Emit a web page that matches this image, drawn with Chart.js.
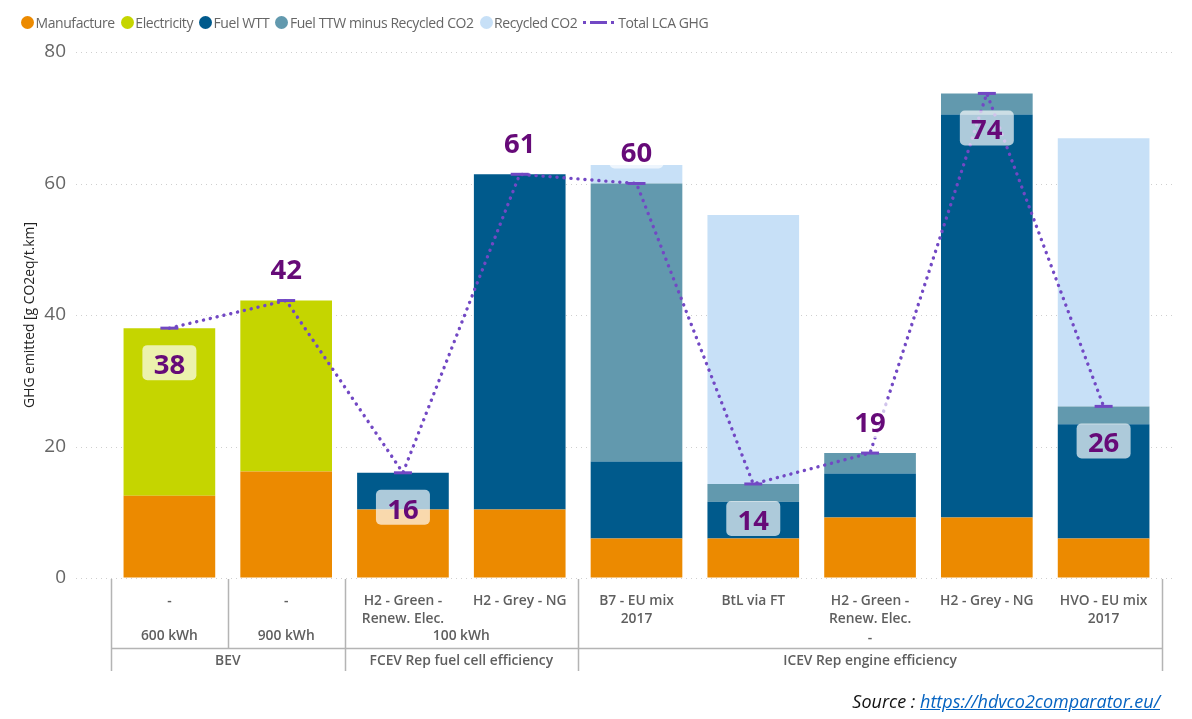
<!DOCTYPE html>
<html>
<head>
<meta charset="utf-8">
<script src="https://cdn.jsdelivr.net/npm/chart.js@4"></script>
<style>
  html, body { margin: 0; padding: 0; background: #fff; }
  #wrap { position: relative; width: 1192px; height: 719px; overflow: hidden; font-family: "Open Sans", sans-serif; }
  #legend { position: absolute; left: 21px; top: 12px; height: 20px; display: flex; align-items: center; font-size: 14px; color: #666; letter-spacing: -0.42px; white-space: nowrap; }
  .item { display: flex; align-items: center; margin-right: 6px; }
  .dot { width: 13px; height: 13px; border-radius: 50%; margin-right: 1.5px; }
  .dash { width: 31px; height: 3px; margin-right: 4px; background: linear-gradient(to right, #7248c4 0 3px, transparent 3px 7px, #7248c4 7px 24px, transparent 24px 28px, #7248c4 28px 31px); }
  #source { position: absolute; right: 32px; top: 689px; font-size: 18px; font-style: italic; color: #111; }
  #source a { color: #0563c1; }
</style>
</head>
<body>
<div id="wrap">
  <canvas id="chart" width="1192" height="719"></canvas>
  <div id="legend"></div>
  <div id="source">Source : <a href="https://hdvco2comparator.eu/">https://hdvco2comparator.eu/</a></div>
</div>
<script>
// ===== DATA =====
var fuelLabels = [
  ['-'], ['-'],
  ['H2 - Green -', 'Renew. Elec.'], ['H2 - Grey - NG'],
  ['B7 - EU mix', '2017'], ['BtL via FT'],
  ['H2 - Green -', 'Renew. Elec.', '-'], ['H2 - Grey - NG'],
  ['HVO - EU mix', '2017']
];
var sizeLabels = ['600 kWh', '900 kWh', '100 kWh', ''];
var sizeSpans = [1, 1, 2, 5];
var groupLabels = ['BEV', 'FCEV Rep fuel cell efficiency', 'ICEV Rep engine efficiency'];
var groupSpans = [2, 2, 5];

var manufacture = [12.5, 16.2, 10.4, 10.4, 6, 6, 9.2, 9.2, 6];
var electricity = [25.5, 26, 0, 0, 0, 0, 0, 0, 0];
var fuelWtt = [0, 0, 5.6, 51, 11.7, 5.6, 6.7, 61.3, 17.4];
var fuelTtw = [0, 0, 0, 0, 42.3, 2.7, 3.1, 3.2, 2.7];
var recycled = [0, 0, 0, 0, 2.8, 40.9, 0, 0, 40.8];
var totalGhg = [38, 42.2, 16, 61.4, 60, 14.3, 19, 73.7, 26.1];
var totalText = ['38', '42', '16', '61', '60', '14', '19', '74', '26'];
var labelsBelow = [true, false, true, false, false, true, false, true, true];
var yTicks = [0, 20, 40, 60, 80];

var colors = ['#EC8A00', '#C5D500', '#005A8C', '#6299AE', '#C7E0F7'];
var lineColor = '#7248c4';
var seriesNames = ['Manufacture', 'Electricity', 'Fuel WTT', 'Fuel TTW minus Recycled CO2', 'Recycled CO2'];
var seriesValues = [manufacture, electricity, fuelWtt, fuelTtw, recycled];

var FONT = '"Open Sans", sans-serif';

// ===== LEGEND =====
var legendHtml = '';
for (var i = 0; i < seriesNames.length; i++) {
  legendHtml += '<div class="item"><span class="dot" style="background:' + colors[i] + '"></span>' + seriesNames[i] + '</div>';
}
legendHtml += '<div class="item"><span class="dash"></span>Total LCA GHG</div>';
document.getElementById('legend').innerHTML = legendHtml;

// ===== DOTTED GRID (wider than the categories) =====
var gridPlugin = {
  id: 'wideGrid',
  beforeDatasetsDraw: function(chart) {
    var ctx = chart.ctx, y = chart.scales.y;
    ctx.save();
    ctx.strokeStyle = '#cfcfcf';
    ctx.lineWidth = 1;
    ctx.setLineDash([1, 4]);
    yTicks.forEach(function(v) {
      var py = Math.round(y.getPixelForValue(v)) + 0.5;
      ctx.beginPath();
      ctx.moveTo(76, py);
      ctx.lineTo(1176, py);
      ctx.stroke();
    });
    ctx.restore();
  }
};

// ===== MULTI LEVEL AXIS =====
var axisPlugin = {
  id: 'levels',
  afterDraw: function(chart) {
    var ctx = chart.ctx, x = chart.scales.x;
    var step = x.getPixelForValue(1) - x.getPixelForValue(0);
    var left = x.getPixelForValue(0) - step / 2;
    var bottom = chart.chartArea.bottom;

    function drawRow(spans, names, y1, y2, textY) {
      var pos = 0;
      ctx.beginPath();
      ctx.moveTo(left + 0.5, y1);
      ctx.lineTo(left + 0.5, y2);
      spans.forEach(function(span, k) {
        var start = left + pos * step;
        pos += span;
        var end = left + pos * step;
        ctx.moveTo(Math.round(end) + 0.5, y1);
        ctx.lineTo(Math.round(end) + 0.5, y2);
        if (names[k]) ctx.fillText(names[k], (start + end) / 2, textY);
      });
      ctx.stroke();
    }

    ctx.save();
    ctx.strokeStyle = '#b4b4b4';
    ctx.lineWidth = 1.5;
    ctx.fillStyle = '#5f5f5f';
    ctx.font = '600 13.8px ' + FONT;
    ctx.textAlign = 'center';
    ctx.textBaseline = 'middle';
    drawRow(sizeSpans, sizeLabels, bottom + 1, bottom + 70, bottom + 58.5);
    drawRow(groupSpans, groupLabels, bottom + 70, bottom + 93, bottom + 83);
    ctx.beginPath();
    ctx.moveTo(left, bottom + 70.5);
    ctx.lineTo(left + step * 9, bottom + 70.5);
    ctx.stroke();
    ctx.restore();
  }
};

// ===== TOTAL LABELS =====
var totalsPlugin = {
  id: 'totals',
  afterDatasetsDraw: function(chart) {
    var ctx = chart.ctx, x = chart.scales.x, y = chart.scales.y;
    ctx.save();
    totalGhg.forEach(function(v, k) {
      var cx = x.getPixelForValue(k);
      var cy = y.getPixelForValue(v) + (labelsBelow[k] ? 35 : -32);
      ctx.fillStyle = 'rgba(255,255,255,0.68)';
      ctx.beginPath();
      ctx.roundRect(cx - 27, cy - 18, 54, 35, 5);
      ctx.fill();
      ctx.fillStyle = '#660a78';
      ctx.font = '700 27.5px ' + FONT;
      ctx.textAlign = 'center';
      ctx.textBaseline = 'middle';
      ctx.fillText(totalText[k], cx, cy + 3);
    });
    ctx.restore();
  }
};

// ===== CHART =====
var datasets = [{
  type: 'line',
  label: 'Total LCA GHG',
  data: totalGhg,
  order: 0,
  borderColor: lineColor,
  borderWidth: 3.4,
  borderDash: [0.1, 6.9],
  borderCapStyle: 'round',
  tension: 0,
  fill: false,
  pointStyle: 'line',
  pointRadius: 9,
  pointBorderWidth: 3,
  pointBorderColor: lineColor,
  pointBackgroundColor: lineColor
}];
for (var s = 0; s < seriesNames.length; s++) {
  datasets.push({
    label: seriesNames[s],
    data: seriesValues[s],
    backgroundColor: colors[s],
    borderWidth: 0,
    stack: 'ghg',
    order: 1,
    categoryPercentage: 1,
    barPercentage: 0.785
  });
}

new Chart(document.getElementById('chart').getContext('2d'), {
  type: 'bar',
  data: { labels: fuelLabels, datasets: datasets },
  options: {
    responsive: false,
    animation: false,
    layout: { padding: { left: 0, right: 30, top: 52, bottom: 0 } },
    plugins: { legend: { display: false }, tooltip: { enabled: false } },
    scales: {
      x: {
        stacked: true,
        afterFit: function(scale) { scale.height = 141; },
        grid: { display: false },
        border: { display: false },
        ticks: {
          autoSkip: false,
          maxRotation: 0,
          padding: 6,
          color: '#5f5f5f',
          font: { family: FONT, size: 13.8, weight: '600', lineHeight: 1.33 }
        }
      },
      y: {
        stacked: true,
        min: 0,
        max: 80,
        afterFit: function(scale) { scale.width = 111; },
        afterBuildTicks: function(scale) { scale.ticks = yTicks.map(function(v) { return { value: v }; }); },
        // tick padding also pads the top of the plot, so the gap comes from an invisible tick
        grid: { drawOnChartArea: false, tickLength: 42, tickColor: 'transparent' },
        border: { display: false },
        ticks: { padding: 3, color: '#666', font: { family: FONT, size: 19 } },
        title: {
          display: true,
          text: 'GHG emitted [g CO2eq/t.km]',
          color: '#222',
          font: { family: FONT, size: 13.9 },
          padding: { top: 22, bottom: 0 }
        }
      }
    }
  },
  plugins: [gridPlugin, axisPlugin, totalsPlugin]
});
</script>
</body>
</html>
